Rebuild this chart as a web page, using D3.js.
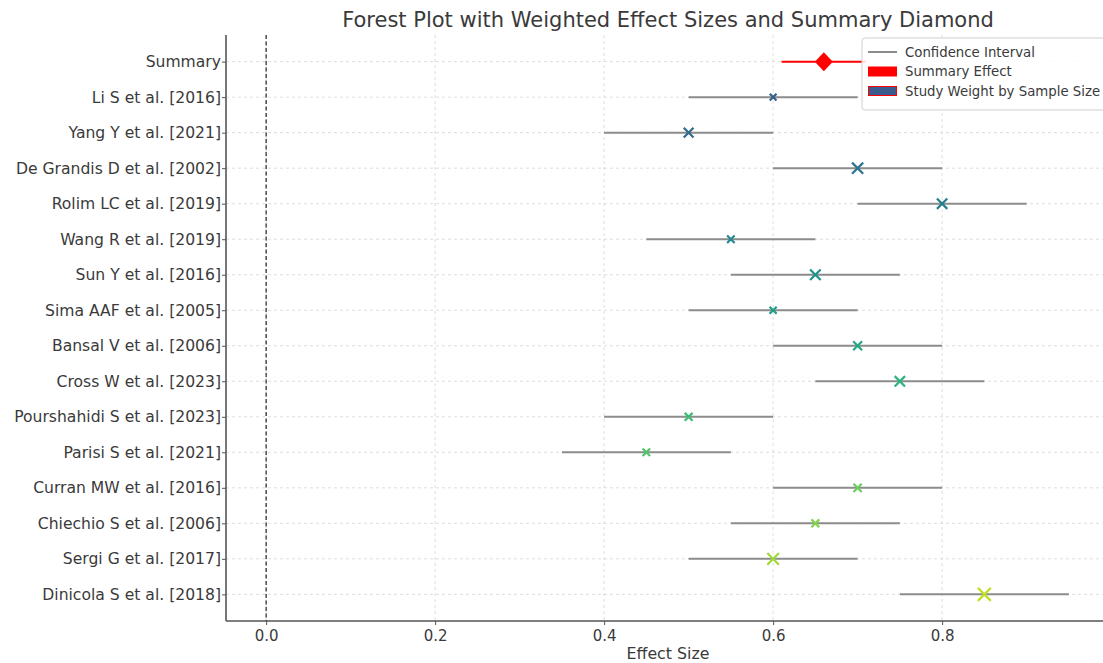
<!DOCTYPE html>
<html>
<head>
<meta charset="utf-8">
<script src="https://cdn.jsdelivr.net/npm/d3@7"></script>
<style>
body { margin: 0; background: #fff; }
text { font-family: "DejaVu Sans", sans-serif; fill: #3a3a3a; }
</style>
</head>
<body>
<div id="chart"></div>
<script>
var fw = 1103;
var fh = 663;

// studies, top to bottom
var studies = ["Li S et al. [2016]", "Yang Y et al. [2021]", "De Grandis D et al. [2002]",
  "Rolim LC et al. [2019]", "Wang R et al. [2019]", "Sun Y et al. [2016]",
  "Sima AAF et al. [2005]", "Bansal V et al. [2006]", "Cross W et al. [2023]",
  "Pourshahidi S et al. [2023]", "Parisi S et al. [2021]", "Curran MW et al. [2016]",
  "Chiechio S et al. [2006]", "Sergi G et al. [2017]", "Dinicola S et al. [2018]"];
var effects = [0.60, 0.50, 0.70, 0.80, 0.55, 0.65, 0.60, 0.70, 0.75, 0.50, 0.45, 0.70, 0.65, 0.60, 0.85];
var ciLow   = [0.50, 0.40, 0.60, 0.70, 0.45, 0.55, 0.50, 0.60, 0.65, 0.40, 0.35, 0.60, 0.55, 0.50, 0.75];
var ciHigh  = [0.70, 0.60, 0.80, 0.90, 0.65, 0.75, 0.70, 0.80, 0.85, 0.60, 0.55, 0.80, 0.75, 0.70, 0.95];
var sampleSizes = [40, 85, 110, 95, 50, 100, 45, 70, 95, 55, 50, 60, 55, 120, 150];

var summaryEffect = 0.66;
var summaryCI = [0.61, 0.71];

var xTicks = [0.0, 0.2, 0.4, 0.6, 0.8];
var legendLabels = ["Confidence Interval", "Summary Effect", "Study Weight by Sample Size"];

var mar = { top: 35, right: -6, bottom: 42, left: 226 };
var w = fw - mar.left - mar.right;
var h = fh - mar.top - mar.bottom;

var svg = d3.select("#chart")
    .append("svg")
    .attr("width", fw)
    .attr("height", fh);

var g = svg.append("g")
    .attr("transform", "translate(" + mar.left + "," + mar.top + ")");

var rows = ["Summary"].concat(studies);

var x = d3.scaleLinear()
    .domain([-0.0475, 0.9975])
    .range([0, w]);

// matplotlib style margin: 0.75 row on each side
var y = d3.scalePoint()
    .domain(rows)
    .range([h * 0.75 / 16.5, h - h * 0.75 / 16.5])
    .padding(0);

var size = d3.scaleSqrt()
    .domain([0, d3.max(sampleSizes)])
    .range([0, 6.5]);

var color = function(i) {
  return d3.interpolateViridis(0.3 + 0.6 * i / (studies.length - 1));
};

// grid
g.append("g").selectAll("line")
  .data(xTicks)
  .enter().append("line")
  .attr("x1", function(d) { return x(d); })
  .attr("x2", function(d) { return x(d); })
  .attr("y1", 0).attr("y2", h)
  .attr("stroke", "#d6d6d6")
  .attr("stroke-width", 0.8)
  .attr("stroke-dasharray", "3,3");

g.append("g").selectAll("line")
  .data(rows)
  .enter().append("line")
  .attr("x1", 0).attr("x2", w)
  .attr("y1", function(d) { return y(d); })
  .attr("y2", function(d) { return y(d); })
  .attr("stroke", "#d6d6d6")
  .attr("stroke-width", 0.8)
  .attr("stroke-dasharray", "3,3");

// zero line
g.append("line")
  .attr("x1", x(0)).attr("x2", x(0))
  .attr("y1", 0).attr("y2", h)
  .attr("stroke", "#222")
  .attr("stroke-width", 1.2)
  .attr("stroke-dasharray", "4,2.5");

// confidence intervals
g.append("g").selectAll("line")
  .data(studies)
  .enter().append("line")
  .attr("x1", function(d, i) { return x(ciLow[i]); })
  .attr("x2", function(d, i) { return x(ciHigh[i]); })
  .attr("y1", function(d) { return y(d); })
  .attr("y2", function(d) { return y(d); })
  .attr("stroke", "#8c8c8c")
  .attr("stroke-width", 2);

// study markers
g.append("g").selectAll("path")
  .data(studies)
  .enter().append("path")
  .attr("transform", function(d, i) { return "translate(" + x(effects[i]) + "," + y(d) + ")"; })
  .attr("d", function(d, i) {
    var s = size(sampleSizes[i]);
    return "M" + (-s) + "," + (-s) + "L" + s + "," + s + "M" + (-s) + "," + s + "L" + s + "," + (-s);
  })
  .attr("stroke", function(d, i) { return color(i); })
  .attr("stroke-width", 2.2)
  .attr("fill", "none");

// summary
g.append("line")
  .attr("x1", x(summaryCI[0])).attr("x2", x(summaryCI[1]))
  .attr("y1", y("Summary")).attr("y2", y("Summary"))
  .attr("stroke", "red")
  .attr("stroke-width", 2);

g.append("path")
  .attr("transform", "translate(" + x(summaryEffect) + "," + y("Summary") + ")")
  .attr("d", "M0,-9.5L9,0L0,9.5L-9,0Z")
  .attr("fill", "red");

// axes
var xA = d3.axisBottom(x)
  .tickValues(xTicks)
  .tickFormat(d3.format(".1f"))
  .tickSize(4);

var yA = d3.axisLeft(y).tickSize(4);

var xg = g.append("g")
  .attr("transform", "translate(0," + h + ")")
  .call(xA);
xg.selectAll("text").style("font-size", "15px").attr("dy", "0.85em");

var yg = g.append("g").call(yA);
yg.selectAll("text").style("font-size", "15.6px").attr("x", -5);

svg.selectAll(".domain").attr("stroke", "#555").attr("stroke-width", 1.6);
svg.selectAll(".tick line").attr("stroke", "#555");
svg.selectAll(".tick text").style("fill", "#3a3a3a");
yg.select(".domain").attr("d", "M0,0V" + h);
xg.select(".domain").attr("d", "M0,0H" + w);

// labels
svg.append("text")
  .attr("x", 668)
  .attr("y", 27)
  .attr("text-anchor", "middle")
  .style("font-size", "21px")
  .text("Forest Plot with Weighted Effect Sizes and Summary Diamond");

svg.append("text")
  .attr("x", 668)
  .attr("y", 659)
  .attr("text-anchor", "middle")
  .style("font-size", "15.8px")
  .text("Effect Size");

// legend
var lg = svg.append("g").attr("transform", "translate(862,38)");
lg.append("rect")
  .attr("width", 260).attr("height", 72)
  .attr("rx", 3)
  .attr("fill", "rgba(255,255,255,0.85)")
  .attr("stroke", "#d0d0d0");

var items = lg.selectAll(".item")
  .data(legendLabels)
  .enter().append("g")
  .attr("transform", function(d, i) { return "translate(6," + (14 + i * 19.5) + ")"; });

items.each(function(d, i) {
  var it = d3.select(this);
  if (i == 0) {
    it.append("line").attr("x1", 0).attr("x2", 29).attr("y1", 0).attr("y2", 0)
      .attr("stroke", "#8c8c8c").attr("stroke-width", 2);
  } else if (i == 1) {
    it.append("rect").attr("x", 0).attr("y", -5).attr("width", 29).attr("height", 10)
      .attr("fill", "red");
  } else {
    it.append("rect").attr("x", 0.5).attr("y", -4.5).attr("width", 28).attr("height", 9)
      .attr("fill", "#3b5b8c").attr("stroke", "red").attr("stroke-width", 1);
  }
  it.append("text").attr("x", 37).attr("y", 4.5)
    .style("font-size", "13.3px")
    .text(d);
});
</script>
</body>
</html>
